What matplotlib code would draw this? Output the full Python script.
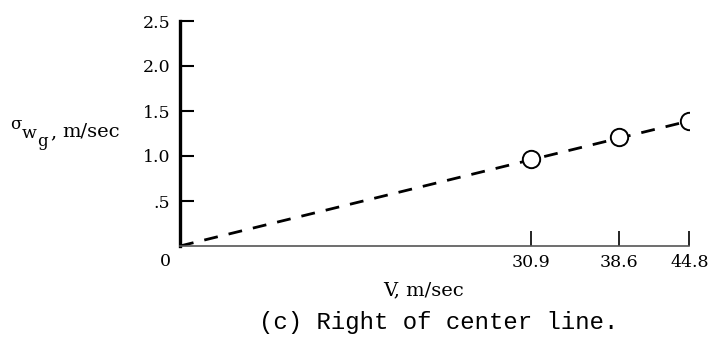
import matplotlib.pyplot as plt

# gust velocity vs airspeed, right of center line
speed = [30.9, 38.6, 44.8]
sigma_wg = [0.97, 1.21, 1.39]
fit_x = [0, 44.8]
fit_y = [0, 1.39]
yticks = [0.5, 1.0, 1.5, 2.0, 2.5]
ytick_labels = ['.5', '1.0', '1.5', '2.0', '2.5']

W, H = 711, 341
serif = 'DejaVu Serif'

fig = plt.figure(figsize=(W / 100, H / 100), dpi=100)
ax = fig.add_axes([180 / W, 1 - 246 / H, 509.3 / W, 225 / H])

ax.plot(fit_x, fit_y, color='black', lw=2, ls=(0, (5, 4)), zorder=2)
ax.plot(speed, sigma_wg, 'o', ms=12.5, mfc='white', mec='black', mew=1.4, zorder=3)

ax.set_xlim(0, 44.8)
ax.set_ylim(0, 2.5)

ax.spines['top'].set_visible(False)
ax.spines['right'].set_visible(False)
ax.spines['left'].set_linewidth(2.4)
ax.spines['bottom'].set_linewidth(1.2)
ax.spines['bottom'].set_color('#555555')

ax.set_yticks(yticks)
ax.set_yticklabels(ytick_labels, family=serif, fontsize=12.5)
ax.set_xticks(speed)
ax.set_xticklabels([str(v) for v in speed], family=serif, fontsize=12.5)
ax.tick_params(axis='y', direction='in', length=10, width=1.5, pad=7)
ax.tick_params(axis='x', direction='in', length=11, width=1.2, pad=5.5)

def px(x, y):
    return x / W, 1 - y / H

fig.text(*px(165, 262), '0', family=serif, fontsize=12.5, ha='center', va='center')

# sigma with stacked subscripts w, g
fig.text(*px(10, 129), '\u03c3', family=serif, fontsize=12, ha='left', va='baseline')
fig.text(*px(22, 138), 'w', family=serif, fontsize=12.5, ha='left', va='baseline')
fig.text(*px(37, 146), 'g', family=serif, fontsize=12, ha='left', va='baseline')
fig.text(*px(50, 137), ',', family=serif, fontsize=14, ha='left', va='baseline')
fig.text(*px(62, 137), 'm/sec', family=serif, fontsize=14, ha='left', va='baseline')

fig.text(*px(383, 290), 'V, m/sec', family=serif, fontsize=14, ha='left', va='center')
fig.text(*px(439, 322), '(c) Right of center line.', family='Liberation Mono',
         fontsize=17.3, ha='center', va='center')

fig.savefig('out.png', dpi=100)
